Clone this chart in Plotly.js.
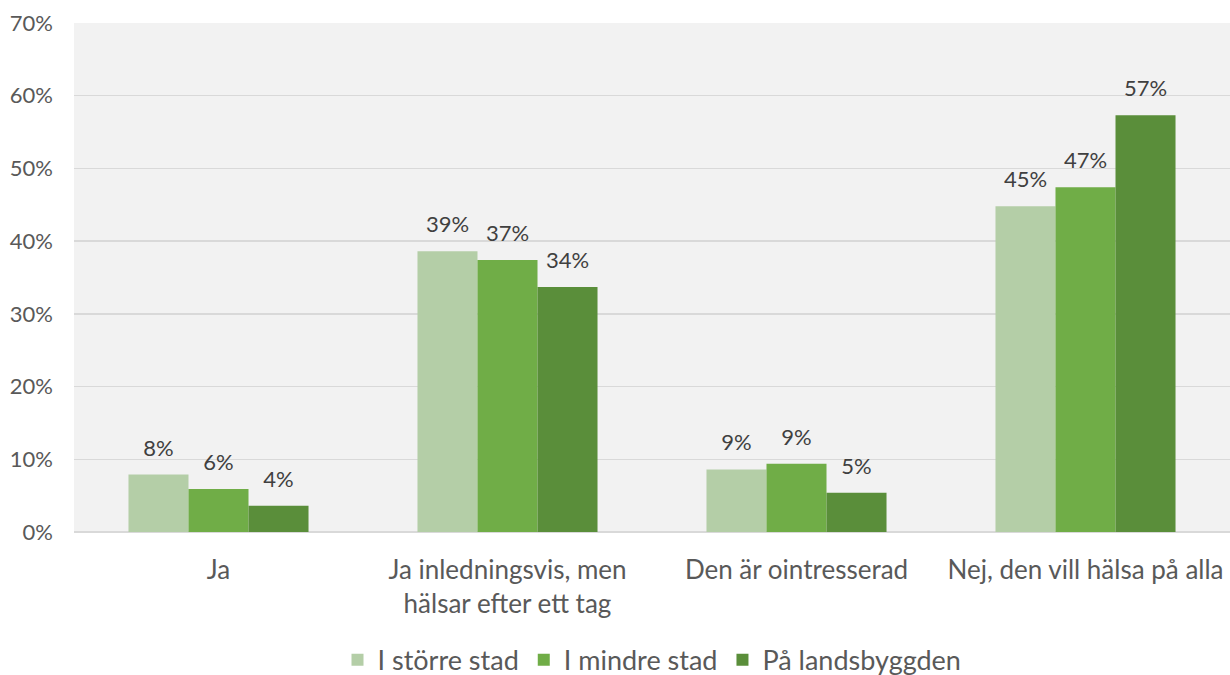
<!DOCTYPE html>
<html><head><meta charset="utf-8">
<script src="https://cdn.plot.ly/plotly-3.0.1.min.js"></script>
<style>body{margin:0;background:#fff}#c{width:1230px;height:675px}</style>
</head><body><div id="c"></div>
<script>
const categories = ["Ja", "Ja inledningsvis, men<br>hälsar efter ett tag", "Den är ointresserad", "Nej, den vill hälsa på alla"];
const seriesNames = ["I större stad", "I mindre stad", "På landsbyggden"];
const storreStad = [7.9, 38.6, 8.6, 44.8];
const mindreStad = [5.9, 37.4, 9.4, 47.4];
const landsbygden = [3.6, 33.7, 5.4, 57.3];
const colors = ["#b4cea7", "#70ad47", "#5a8e3a"];
const yTicks = [0, 10, 20, 30, 40, 50, 60, 70];

const font = "Lato, 'Open Sans', sans-serif";
const series = [storreStad, mindreStad, landsbygden];
const bars = series.map((vals, i) => ({
  type: "bar", name: seriesNames[i], x: categories, y: vals,
  marker: {color: colors[i]}, hoverinfo: "none"
}));
const labels = series.map((vals, i) => ({
  type: "scatter", mode: "markers+text", x: categories, y: vals, showlegend: false,
  marker: {size: 20, opacity: 0}, cliponaxis: false,
  text: vals.map(v => Math.round(v) + "%"), textposition: "top center",
  textfont: {family: font, size: 22, color: "#404040"}, hoverinfo: "none"
}));
const layout = {
  width: 1230, height: 675,
  margin: {l: 74, r: 0, t: 23, b: 143, autoexpand: false},
  paper_bgcolor: "#ffffff", plot_bgcolor: "#f2f2f2",
  barmode: "group", bargap: 0.377, bargroupgap: 0,
  scattermode: "group", scattergap: 0.377,
  font: {family: font, color: "#595959"},
  showlegend: true,
  legend: {orientation: "h", x: 0.5, xanchor: "center", yref: "container", y: 0.022, yanchor: "middle",
           font: {family: font, size: 27, color: "#595959"}, itemwidth: 30, traceorder: "normal"},
  xaxis: {tickfont: {family: font, size: 26, color: "#595959"}, showline: false, ticks: "",
          ticklabelstandoff: 20, automargin: false},
  yaxis: {range: [0, 70], tickvals: yTicks, ticktext: yTicks.map(v => v + "%"),
          tickfont: {family: font, size: 22, color: "#595959"},
          gridcolor: "#d9d9d9", gridwidth: 1.5, zeroline: true, zerolinecolor: "#d9d9d9", zerolinewidth: 1.5,
          showline: false, ticks: "", ticklabelstandoff: 20, automargin: false}
};
Plotly.newPlot("c", bars.concat(labels), layout, {staticPlot: true});
</script></body></html>
